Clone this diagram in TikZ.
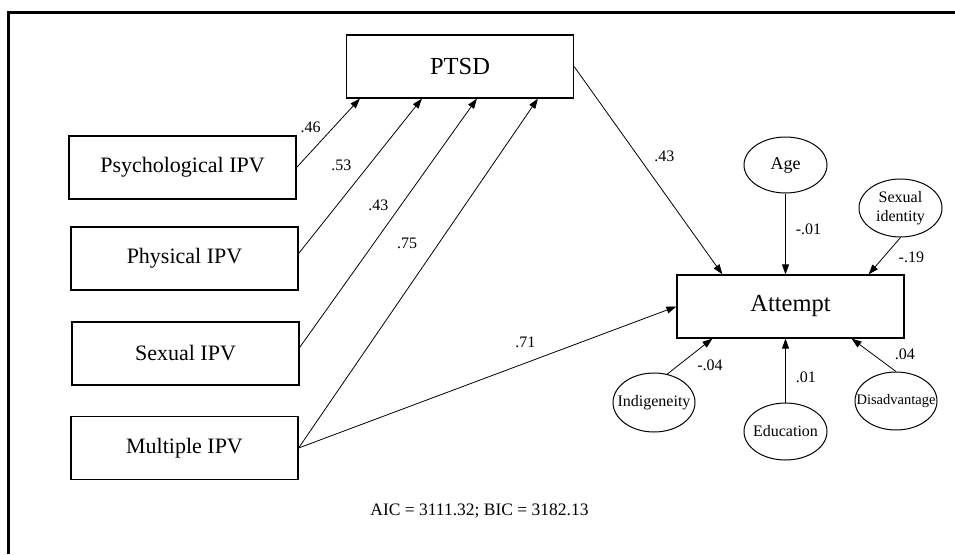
\documentclass[tikz,border=0pt]{standalone}
\usepackage{fontspec}
\setmainfont{Liberation Serif}
\usetikzlibrary{shapes.geometric, arrows.meta, positioning}

\begin{document}
\begin{tikzpicture}[x=1pt, y=-1pt,
    ipv/.style={rectangle, minimum width=227pt, minimum height=63pt, inner sep=0pt,
                text centered, draw=black, line width=1.2pt, font=\fontsize{22}{26}\selectfont},
    outcome/.style={ipv, font=\fontsize{24.5}{28}\selectfont},
    covariate/.style={ellipse, minimum width=83pt, minimum height=57pt, inner sep=0pt,
                      text centered, draw=black, line width=1pt, font=\fontsize{16}{19}\selectfont},
    coef/.style={inner sep=0pt, font=\fontsize{16}{18}\selectfont},
    arrow/.style={-{Triangle[length=10pt, width=7pt]}, line width=0.8pt},
    frame/.style={line width=3pt, line join=miter}]

    \useasboundingbox (0,0) rectangle (955,554);
    \draw[frame] (955,12) -- (8,12) -- (8,554);

    % Nodes - path model
    \node[outcome] (ptsd) at (460,66.5) {PTSD};
    \node[ipv] (psych) at (182.5,167.5) {Psychological IPV};
    \node[ipv] (physical) at (184.5,258.5) {Physical IPV};
    \node[ipv] (sexual) at (185.5,353.5) {Sexual IPV};
    \node[ipv] (multiple) at (184.5,448) {Multiple IPV};
    \node[outcome] (attempt) at (790.5,306.5) {Attempt};

    % Covariates
    \node[covariate, minimum height=56pt, font=\fontsize{18}{20}\selectfont] (age) at (785.5,165) {\makebox[0pt]{Age}};
    \node[covariate, minimum height=58pt] (sexid) at (900.5,208) {\makebox[0pt]{\parbox{2cm}{\centering Sexual\\identity}}};
    \node[covariate, minimum width=82pt, minimum height=59pt] (indig) at (654,402.5) {\makebox[0pt]{Indigeneity}};
    \node[covariate] (education) at (785.5,431.5) {\makebox[0pt]{Education}};
    \node[covariate, minimum width=82pt, minimum height=58pt, font=\fontsize{14.5}{17}\selectfont] (disadv) at (896,401) {\makebox[0pt]{Disadvantage}};

    \node[inner sep=0pt, font=\fontsize{17.5}{20}\selectfont] (fitinfo) at (479.5,511) {AIC = 3111.32; BIC = 3182.13};

    % Arrows
    \draw[arrow] (psych.east) -- node[coef, pos=0.59, left=13pt] {.46} ([xshift=14pt]ptsd.south west);
    \draw[arrow] ([yshift=5pt]physical.east) -- node[coef, pos=0.57, left=17pt] {.53} ([xshift=76pt]ptsd.south west);
    \draw[arrow] ([yshift=6pt]sexual.east) -- node[coef, pos=0.57, left=12pt] {.43} ([xshift=131pt]ptsd.south west);
    \draw[arrow] (multiple.east) -- node[coef, pos=0.585, left=21pt] {.75} ([xshift=192pt]ptsd.south west);
    \draw[arrow] (ptsd.east) -- node[coef, pos=0.43, right=16pt] {.43} ([xshift=46pt]attempt.north west);
    \draw[arrow] (multiple.east) -- node[coef, pos=0.6, above=15pt] {.71} (attempt.west);
    \draw[arrow] (age) -- node[coef, pos=0.44, right=10pt] {-.01} (age |- attempt.north);
    \draw[arrow] (sexid.south) -- node[coef, pos=0.54, right=15pt] {-.19} ([xshift=-36pt]attempt.north east);
    \draw[arrow] (indig.65) -- node[coef, pos=0.26, right=18pt] {-.04} ([xshift=36pt]attempt.south west);
    \draw[arrow] (education) -- node[coef, pos=0.4, right=10pt] {.01} (education |- attempt.south);
    \draw[arrow] (disadv.north) -- node[coef, pos=0.53, right=22pt] {.04} ([xshift=-53pt]attempt.south east);

\end{tikzpicture}
\end{document}
